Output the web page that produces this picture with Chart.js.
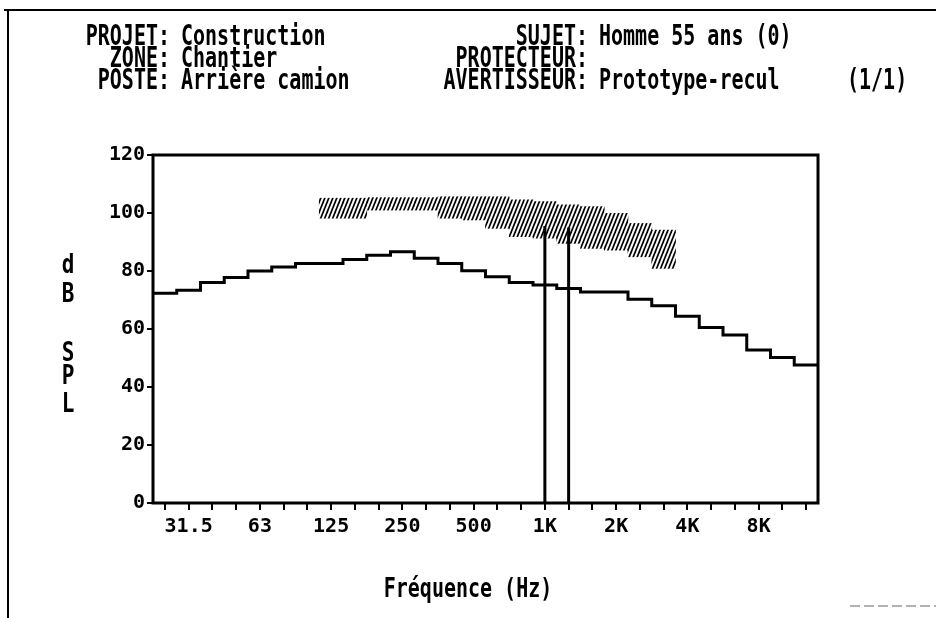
<!DOCTYPE html>
<html><head><meta charset="utf-8">
<script src="https://cdn.jsdelivr.net/npm/chart.js@4.4.1/dist/chart.umd.min.js"></script>
<style>html,body{margin:0;padding:0;background:#fff;} canvas{display:block;}</style>
</head><body>
<canvas id="c" width="936" height="618"></canvas>
<script>
// 1/3-octave bands (25 Hz .. 12.5 kHz)
const bands = ['25','31.5','40','50','63','80','100','125','160','200','250','315','400','500','630','800','1K','1.25K','1.6K','2K','2.5K','3.15K','4K','5K','6.3K','8K','10K','12.5K'];
// labelled bands on the x axis
const labelBands = [1, 4, 7, 10, 13, 16, 19, 22, 25];
const labelTexts = ['31.5', '63', '125', '250', '500', '1K', '2K', '4K', '8K'];
// noise spectrum (dB SPL) per band
const levels = [72.3, 73.4, 76, 77.8, 80, 81.4, 82.6, 82.6, 84, 85.4, 86.6, 84.4, 82.6, 80.1, 78, 76, 75.2, 74, 72.8, 72.8, 70.3, 68, 64.4, 60.5, 57.9, 52.8, 50.2, 47.6];
// hatched zone (band index, low, high)
const hatchBands = [7, 8, 9, 10, 11, 12, 13, 14, 15, 16, 17, 18, 19, 20, 21];
const hatchLow   = [98.2, 98.2, 101, 101, 101, 98.2, 97.6, 94.7, 91.8, 91.3, 89.5, 87.8, 87.2, 84.9, 80.9];
const hatchHigh  = [105.1, 105.1, 105.3, 105.3, 105.3, 105.6, 105.6, 105.6, 104.5, 103.9, 102.8, 102.2, 99.9, 96.4, 94.1];
// warning signal components (band index, level)
const markerBands = [16, 17];
const markerLevels = [95.5, 95];
// y ticks
const yTicks = [0, 20, 40, 60, 80, 100, 120];
// header texts
const headLeftLabels = ['PROJET:', 'ZONE:', 'POSTE:'];
const headLeftValues = ['Construction', 'Chantier', 'Arrière camion'];
const headRightLabels = ['SUJET:', 'PROTECTEUR:', 'AVERTISSEUR:'];
const headRightValues = ['Homme 55 ans (0)', '', 'Prototype-recul'];
const pageText = '(1/1)';
const yTitle = ['d', 'B', '', 'S', 'P', 'L'];
const xTitle = 'Fréquence (Hz)';

const FONT = "'DejaVu Sans Mono', 'Liberation Mono', monospace";

function makeHatch() {
  const c = document.createElement('canvas'); c.width = 4; c.height = 10;
  const g = c.getContext('2d');
  g.strokeStyle = '#000'; g.lineWidth = 1.7; g.lineCap = 'butt';
  [-4, 0, 4].forEach(o => { g.beginPath(); g.moveTo(o - 1, 12.5); g.lineTo(o + 5, -2.5); g.stroke(); });
  return g.createPattern(c, 'repeat');
}

const stepPts = levels.map((v, i) => ({ x: i - 0.5, y: v }));
stepPts.push({ x: levels.length - 0.5, y: levels[levels.length - 1] });

const datasets = [
  {
    type: 'bar',
    data: hatchBands.map((b, i) => ({ x: b, y: [hatchLow[i], hatchHigh[i]] })),
    backgroundColor: makeHatch(),
    borderWidth: 0, borderSkipped: false,
    barPercentage: 1, categoryPercentage: 1, grouped: false
  },
  {
    type: 'line', data: stepPts, stepped: 'before',
    borderColor: '#000', borderWidth: 3, pointRadius: 0, fill: false
  }
];
markerBands.forEach((b, i) => datasets.push({
  type: 'line', data: [{ x: b, y: 0 }, { x: b, y: markerLevels[i] }],
  borderColor: '#000', borderWidth: 3, pointRadius: 0, fill: false
}));

function scaledText(ctx, txt, x, y, align, sy) {
  ctx.save();
  ctx.translate(x, y);
  ctx.scale(1, sy);
  ctx.textAlign = align;
  ctx.textBaseline = 'middle';
  ctx.fillText(txt, 0, 0);
  ctx.restore();
}

const deco = {
  id: 'deco',
  afterDatasetsDraw(chart) {
    const { ctx, chartArea: a } = chart;
    ctx.save();
    ctx.strokeStyle = '#000'; ctx.lineWidth = 3;
    ctx.strokeRect(a.left, a.top, a.right - a.left, a.bottom - a.top);
    ctx.restore();
  },
  afterDraw(chart) {
    const { ctx } = chart;
    ctx.save();
    // page frame
    ctx.strokeStyle = '#000'; ctx.lineWidth = 2;
    ctx.beginPath(); ctx.moveTo(4, 10); ctx.lineTo(936, 10); ctx.stroke();
    ctx.beginPath(); ctx.moveTo(8, 10); ctx.lineTo(8, 618); ctx.stroke();
    ctx.strokeStyle = '#999'; ctx.lineWidth = 1.5; ctx.setLineDash([10, 4]);
    ctx.beginPath(); ctx.moveTo(850, 606); ctx.lineTo(936, 606); ctx.stroke();
    ctx.setLineDash([]);
    // header
    ctx.fillStyle = '#000';
    ctx.font = 'bold 20px ' + FONT;
    const rows = [38, 60, 82];
    rows.forEach((y, i) => {
      scaledText(ctx, headLeftLabels[i], 170, y, 'right', 1.4);
      scaledText(ctx, headLeftValues[i], 181, y, 'left', 1.4);
      scaledText(ctx, headRightLabels[i], 588, y, 'right', 1.4);
      if (headRightValues[i]) scaledText(ctx, headRightValues[i], 599, y, 'left', 1.4);
    });
    scaledText(ctx, pageText, 847, rows[2], 'left', 1.4);
    // y title (stacked letters)
    ctx.font = 'bold 21px ' + FONT;
    const yPos = [266, 295, 325, 354, 377, 405];
    yTitle.forEach((ch, i) => { if (ch) scaledText(ctx, ch, 68, yPos[i], 'center', 1.25); });
    // x title
    ctx.font = 'bold 20px ' + FONT;
    scaledText(ctx, xTitle, 468, 590, 'center', 1.35);
    ctx.restore();
  }
};

new Chart(document.getElementById('c'), {
  type: 'line',
  data: { datasets },
  options: {
    responsive: false, animation: false,
    layout: { padding: { top: 155, right: 118, left: 0, bottom: 0 } },
    plugins: { legend: { display: false }, tooltip: { enabled: false }, title: { display: false } },
    scales: {
      x: {
        type: 'linear', min: -0.5, max: bands.length - 0.5, offset: false,
        afterBuildTicks: s => { s.ticks = bands.map((_, i) => ({ value: i })); },
        afterFit: s => { s.height = 115; },
        ticks: {
          autoSkip: false, maxRotation: 0, minRotation: 0, padding: 5, color: '#000',
          font: { family: FONT, size: 20, weight: 'bold' },
          callback: v => { const k = labelBands.indexOf(v); return k >= 0 ? labelTexts[k] : ''; }
        },
        grid: { display: true, drawOnChartArea: false, drawTicks: true, tickLength: 7, color: '#000', lineWidth: 2, offset: false },
        border: { display: false }
      },
      y: {
        type: 'linear', min: 0, max: 120,
        afterBuildTicks: s => { s.ticks = yTicks.map(v => ({ value: v })); },
        afterFit: s => { s.width = 153; },
        ticks: { padding: 2, color: '#000', font: { family: FONT, size: 20, weight: 'bold' } },
        grid: { display: true, drawOnChartArea: false, drawTicks: true, tickLength: 6, color: '#000', lineWidth: 2 },
        border: { display: false }
      }
    }
  },
  plugins: [deco]
});
</script>
</body></html>
